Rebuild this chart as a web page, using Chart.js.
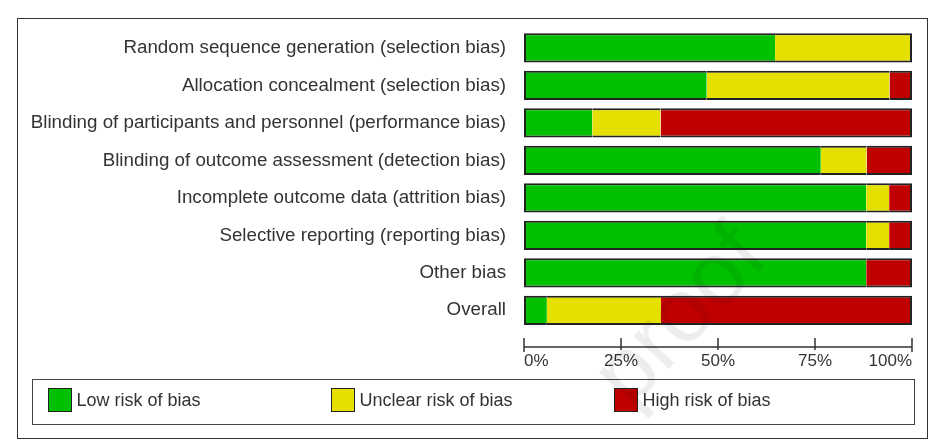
<!DOCTYPE html>
<html>
<head>
<meta charset="utf-8">
<script src="https://cdn.jsdelivr.net/npm/chart.js@4/dist/chart.umd.min.js"></script>
<style>
    html, body { margin: 0; padding: 0; background: #fff; }
    body { width: 934px; height: 445px; position: relative; overflow: hidden; font-family: "Liberation Sans", Arial, sans-serif; }
    #frame { position: absolute; left: 17px; top: 18px; width: 909px; height: 419px; border: 1.5px solid #333; }
    #wrap { position: absolute; left: 0; top: 0; width: 934px; height: 445px; }
    #legend { position: absolute; left: 32px; top: 379px; width: 881px; height: 44px; border: 1.5px solid #444; }
    .item { position: absolute; top: 8px; display: flex; align-items: center; font-size: 18px; color: #333; }
    .swatch { width: 22px; height: 22px; border: 1px solid #222; margin-right: 5px; }
    #mark { position: absolute; left: 678px; top: 314px; font-size: 90px; color: rgba(0, 0, 0, 0.07);
            transform: translate(-50%, -50%) rotate(-47deg); white-space: nowrap; pointer-events: none; }
</style>
</head>
<body>
<div id="frame"></div>
<div id="wrap"><canvas id="robChart" width="934" height="445"></canvas></div>
<div id="legend"></div>
<div id="mark">proof</div>
<script>
// Risk of bias summary, percent of included studies
const categories = [
    'Random sequence generation (selection bias)',
    'Allocation concealment (selection bias)',
    'Blinding of participants and personnel (performance bias)',
    'Blinding of outcome assessment (detection bias)',
    'Incomplete outcome data (attrition bias)',
    'Selective reporting (reporting bias)',
    'Other bias',
    'Overall'
];
const lowRisk     = [64.7, 47.1, 17.6, 76.5, 88.2, 88.2, 88.2, 5.9];
const unclearRisk = [35.3, 47.1, 17.6, 11.8, 5.9, 5.9, 0, 29.4];
const highRisk    = [0, 5.8, 64.8, 11.7, 5.9, 5.9, 11.8, 64.7];
const xTicks = [0, 25, 50, 75, 100];
const seriesLabels = ['Low risk of bias', 'Unclear risk of bias', 'High risk of bias'];
const seriesColors = ['#00c000', '#e6e000', '#c00000'];

const seriesData = [lowRisk, unclearRisk, highRisk];

// axis line with tick marks, sitting a bit below the bars
const axisLine = {
    id: 'axisLine',
    afterDraw(chart) {
        const { ctx, chartArea, scales } = chart;
        const x = scales.x;
        const y = chartArea.bottom + 18;
        ctx.save();
        ctx.strokeStyle = '#333';
        ctx.lineWidth = 1.5;
        ctx.beginPath();
        ctx.moveTo(x.left, y);
        ctx.lineTo(x.right, y);
        x.ticks.forEach((t, i) => {
            const px = x.getPixelForValue(t.value);
            const end = i === 0 || i === x.ticks.length - 1;
            ctx.moveTo(px, y - 9);
            ctx.lineTo(px, y + (end ? 5 : 3));
        });
        ctx.stroke();
        ctx.restore();
    }
};

new Chart(document.getElementById('robChart'), {
    type: 'bar',
    data: {
        labels: categories,
        datasets: seriesData.map((d, i) => ({
            label: seriesLabels[i],
            data: d,
            backgroundColor: seriesColors[i],
            borderColor: '#222',
            borderWidth: 2,
            borderSkipped: 'middle',
            categoryPercentage: 1,
            barPercentage: 0.78
        }))
    },
    options: {
        indexAxis: 'y',
        responsive: false,
        animation: false,
        devicePixelRatio: 1,
        layout: { padding: { top: 28, right: 22, bottom: 66, left: 0 } },
        plugins: { legend: { display: false }, tooltip: { enabled: false } },
        scales: {
            x: {
                stacked: true,
                min: 0,
                max: 100,
                grid: { display: false, drawTicks: false },
                border: { display: false },
                afterBuildTicks(scale) { scale.ticks = xTicks.map(v => ({ value: v })); },
                afterFit(scale) { scale.height = 50; },
                ticks: {
                    align: 'inner',
                    padding: 22,
                    color: '#333',
                    font: { family: '"Liberation Sans", Arial, sans-serif', size: 17 },
                    callback: v => v + '%'
                }
            },
            y: {
                stacked: true,
                grid: { display: false, drawTicks: false },
                border: { display: false },
                afterFit(scale) { scale.width = 524; },
                ticks: {
                    padding: 18,
                    color: '#333',
                    font: { family: '"Liberation Sans", Arial, sans-serif', size: 18.75 }
                }
            }
        }
    },
    plugins: [axisLine]
});

// legend box below the chart
const legend = document.getElementById('legend');
const itemLeft = [14.5, 297.5, 580.5];
seriesLabels.forEach((lab, i) => {
    const item = document.createElement('div');
    item.className = 'item';
    item.style.left = itemLeft[i] + 'px';
    const sw = document.createElement('span');
    sw.className = 'swatch';
    sw.style.background = seriesColors[i];
    const txt = document.createElement('span');
    txt.textContent = lab;
    item.appendChild(sw);
    item.appendChild(txt);
    legend.appendChild(item);
});
</script>
</body>
</html>
